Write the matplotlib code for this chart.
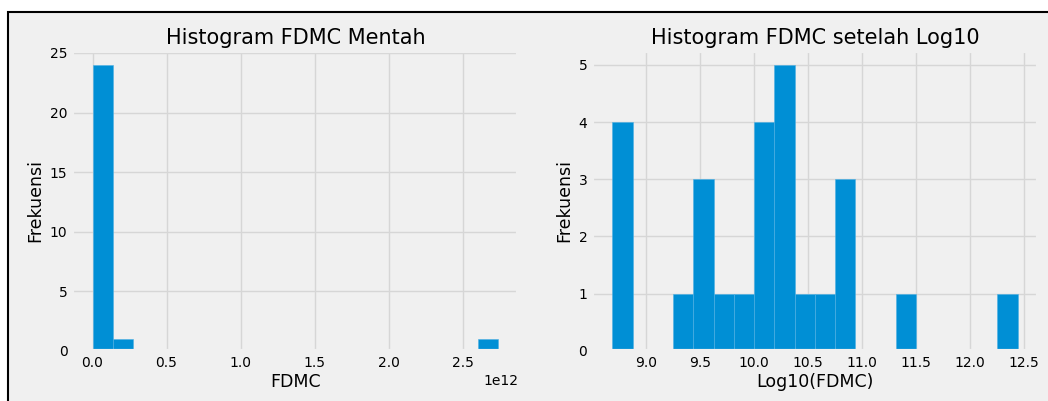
import numpy as np
import matplotlib
matplotlib.use('Agg')
import matplotlib.pyplot as plt
from matplotlib.patches import Rectangle

# nilai FDMC (dibaca dari histogram)
fdmc = [4.9e8, 5.6e8, 6.3e8, 7.1e8,
        2.24e9,
        3.16e9, 3.55e9, 3.98e9,
        5.25e9,
        7.94e9,
        1.12e10, 1.26e10, 1.32e10, 1.41e10,
        1.66e10, 1.78e10, 1.91e10, 2.0e10, 2.24e10,
        2.82e10,
        4.47e10,
        6.31e10, 7.08e10, 7.94e10,
        2.51e11,
        2.74e12]
n_bins = 20

judul = ['Histogram FDMC Mentah', 'Histogram FDMC setelah Log10']
label_x = ['FDMC', 'Log10(FDMC)']
label_y = 'Frekuensi'

plt.style.use('fivethirtyeight')
plt.rcParams['grid.color'] = '#d6d6d6'

fig = plt.figure(figsize=(10.48, 4.01), dpi=100, facecolor='white')
# bingkai figure (terpotong di kanan & bawah)
fig.patches.append(Rectangle((8 / 1048, -0.1), 1.2, 1.1 - 12 / 401,
                             transform=fig.transFigure, facecolor='#f0f0f0',
                             edgecolor='black', linewidth=1.5, zorder=-10))

ax1 = fig.add_axes([0.069, 0.125, 0.4256, 0.749])
ax2 = fig.add_axes([0.565, 0.125, 0.4253, 0.749])

data = [np.array(fdmc), np.log10(fdmc)]
for ax, d, t, xl in zip([ax1, ax2], data, judul, label_x):
    ax.hist(d, bins=n_bins, color='#008fd5', edgecolor='#4fb0e3', linewidth=0.4)
    ax.set_title(t, fontsize=15, pad=5)
    ax.set_xlabel(xl, fontsize=12.5, labelpad=2)
    ax.set_ylabel(label_y, fontsize=12.5)
    ax.tick_params(labelsize=10)
    ax.set_facecolor('#f0f0f0')

ax1.set_yticks([0, 5, 10, 15, 20, 25])
ax1.xaxis.get_offset_text().set_fontsize(10)
ax2.set_xticks([9.0, 9.5, 10.0, 10.5, 11.0, 11.5, 12.0, 12.5])

fig.savefig('out.png', dpi=100, facecolor='white')
